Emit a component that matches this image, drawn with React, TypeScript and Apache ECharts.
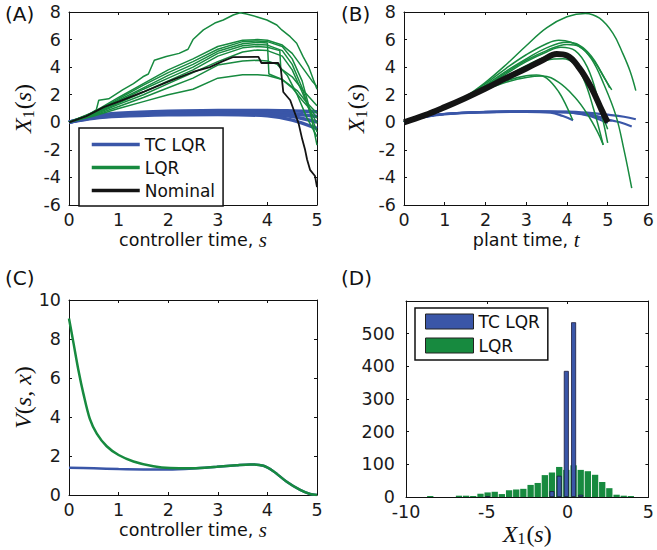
import React, { useEffect, useRef } from "react";
import * as echarts from "echarts";

type P = [number, number];

const BLUE = "#3a56a8";
const GREEN = "#178a3f";
const BLACK = "#141414";
const FONT = "DejaVu Sans";
const SERIF = "Liberation Serif";

// ---------- Panel A : X1 vs controller time s ----------
const aXTicks = [0, 5, 1];
const aYTicks = [-6, 8, 2];
const aTcLqr: P[][] = [
  [[0, 0], [0.5, 0.47], [1, 0.66], [2, 0.8], [3, 0.85], [4, 0.86], [4.5, 0.82], [5, 0.76]],
  [[0, 0], [0.5, 0.4], [1, 0.58], [2, 0.72], [3, 0.77], [4, 0.74], [4.5, 0.62], [5, 0.42]],
  [[0, 0], [0.5, 0.34], [1, 0.5], [2, 0.63], [3, 0.68], [4, 0.62], [4.5, 0.42], [5, 0.02]],
  [[0, 0], [0.5, 0.29], [1, 0.43], [2, 0.54], [3, 0.57], [4, 0.47], [4.5, 0.16], [5, -0.45]],
];
const aLqr: P[][] = [
  [[0, 0], [0.3, 0.35], [0.55, 0.9], [0.6, 1.6], [0.8, 1.7], [1.08, 2.35], [1.3, 2.8], [1.49, 3.3], [1.6, 3.5], [1.72, 4.5], [1.96, 4.77], [2.22, 5.0], [2.4, 5.3], [2.5, 6.0], [2.71, 6.7], [2.94, 7.2], [3.11, 7.42], [3.31, 7.78], [3.45, 7.95], [3.58, 7.85], [3.78, 7.66], [3.99, 7.42], [4.19, 7.06], [4.29, 6.7], [4.46, 6.21], [4.59, 5.73], [4.72, 4.76], [4.83, 4.04], [4.93, 3.07], [5, 2.4]],
  [[0, 0], [0.5, 0.75], [1, 1.8], [1.5, 2.8], [2, 3.8], [2.5, 4.6], [3, 5.5], [3.5, 5.95], [3.8, 6.0], [4.0, 5.95], [4.3, 5.6], [4.5, 5.0], [4.7, 4.0], [4.9, 3.0], [5, 2.6]],
  [[0, 0], [0.5, 0.7], [1, 1.7], [1.5, 2.7], [2, 3.6], [2.5, 4.4], [3, 5.3], [3.5, 5.85], [3.8, 5.9], [4.0, 5.85], [4.3, 5.5], [4.5, 4.6], [4.7, 3.0], [4.85, 1.0], [5, -1.65]],
  [[0, 0], [0.5, 0.7], [1, 1.6], [1.5, 2.5], [2, 3.4], [2.5, 4.2], [3, 5.15], [3.5, 5.7], [3.8, 5.8], [4.0, 5.75], [4.03, 3.5], [4.3, 3.1], [4.6, 2.3], [4.8, 1.4], [5, 0.65]],
  [[0, 0], [0.5, 0.65], [1, 1.5], [1.5, 2.4], [2, 3.2], [2.5, 4.0], [3, 5.0], [3.5, 5.55], [3.8, 5.65], [4.0, 5.6], [4.3, 5.2], [4.5, 4.2], [4.7, 2.5], [4.85, 0.8], [5, -0.7]],
  [[0, 0], [0.5, 0.6], [1, 1.4], [1.5, 2.2], [2, 3.0], [2.5, 3.8], [3, 4.8], [3.5, 5.4], [3.8, 5.5], [4.0, 5.45], [4.25, 5.2], [4.27, 3.9], [4.5, 3.3], [4.7, 2.4], [5, 1.2]],
  [[0, 0], [0.5, 0.55], [1, 1.3], [1.5, 2.0], [2, 2.8], [2.5, 3.6], [3, 4.4], [3.5, 5.1], [3.8, 5.25], [4.0, 5.2], [4.3, 4.8], [4.5, 3.8], [4.7, 2.2], [4.85, 0.9], [5, -0.07]],
  [[0, 0], [0.5, 0.5], [1, 1.15], [1.5, 1.8], [2, 2.5], [2.5, 3.2], [3, 4.15], [3.5, 4.45], [3.8, 4.5], [4.0, 4.45], [4.2, 4.2], [4.4, 3.4], [4.6, 2.0], [4.8, 0.3], [5, -1.04]],
  [[0, 0], [0.5, 0.45], [1, 1.0], [1.5, 1.5], [2, 2.0], [2.5, 2.4], [3, 3.2], [3.5, 3.45], [3.8, 3.45], [4.0, 3.4], [4.3, 3.1], [4.5, 2.5], [4.7, 1.6], [4.9, 0.8], [5, 0.3]],
];
const aNominal: P[] = [[0, 0], [0.35, 0.45], [0.7, 1.1], [1, 1.5], [1.5, 2.2], [2, 2.95], [2.5, 3.65], [2.84, 4.0], [3.08, 4.4], [3.3, 4.72], [3.82, 4.75], [3.88, 4.3], [4.22, 4.3], [4.27, 3.9], [4.32, 2.2], [4.46, 1.6], [4.56, 0.6], [4.63, -0.1], [4.7, -1.2], [4.76, -2.0], [4.8, -2.7], [4.86, -3.45], [4.96, -3.9], [5, -4.7]];

// ---------- Panel B : X1 vs plant time t ----------
const bXTicks = [0, 6, 1];
const bYTicks = [-6, 8, 2];
const bTcLqr: P[][] = [
  [[0, 0], [0.5, 0.4], [1, 0.6], [2, 0.72], [3, 0.75], [3.6, 0.7], [3.9, 0.45], [4.15, 0.15]],
  [[0, 0], [0.5, 0.4], [1, 0.6], [2, 0.74], [3, 0.78], [4, 0.72], [4.5, 0.5], [4.8, 0.2], [5.0, -0.05]],
  [[0, 0], [0.5, 0.38], [1, 0.58], [2, 0.73], [3, 0.77], [4, 0.72], [4.5, 0.55], [5.0, 0.2], [5.3, 0.0], [5.59, -0.3]],
  [[0, 0], [0.5, 0.4], [1, 0.62], [2, 0.76], [3, 0.8], [4, 0.78], [4.5, 0.7], [5.0, 0.55], [5.4, 0.4], [5.69, 0.22]],
  [[0, 0], [0.5, 0.39], [1, 0.6], [2, 0.75], [3, 0.79], [4, 0.75], [4.5, 0.6], [4.8, 0.4], [5.1, 0.1]],
];
const bLqr: P[][] = [
  [[0, 0], [0.5, 0.5], [1, 1.1], [1.5, 1.85], [2, 2.9], [2.55, 4.3], [3.0, 5.55], [3.5, 6.85], [4.0, 7.65], [4.45, 7.9], [4.8, 7.55], [5.13, 6.45], [5.37, 5.0], [5.55, 3.7], [5.69, 2.3]],
  [[0, 0], [0.5, 0.5], [1, 1.1], [1.5, 1.8], [2, 2.8], [2.5, 3.9], [3, 4.9], [3.5, 5.7], [3.8, 5.95], [4.1, 5.8], [4.4, 5.3], [4.7, 4.3], [4.9, 3.3], [5.1, 2.35]],
  [[0, 0], [0.5, 0.5], [1, 1.1], [1.5, 1.75], [2, 2.7], [2.5, 3.7], [3, 4.6], [3.5, 5.4], [4.0, 5.8], [4.3, 5.6], [4.6, 4.8], [4.85, 3.6], [5.05, 2.5]],
  [[0, 0], [0.5, 0.5], [1, 1.1], [1.5, 1.7], [2, 2.6], [2.5, 3.6], [3, 4.5], [3.5, 5.2], [4.0, 5.65], [4.3, 5.5], [4.6, 4.6], [4.9, 2.8], [5.2, 0.5], [5.4, -2.0], [5.59, -4.78]],
  [[0, 0], [0.5, 0.5], [1, 1.1], [1.5, 1.7], [2, 2.6], [2.5, 3.5], [3, 4.4], [3.5, 5.1], [3.85, 5.45], [4.2, 5.2], [4.5, 4.0], [4.75, 1.8], [5.0, -1.5]],
  [[0, 0], [0.5, 0.5], [1, 1.1], [1.5, 1.7], [2, 2.5], [2.5, 3.3], [3, 4.1], [3.5, 4.8], [3.8, 5.0], [4.1, 4.6], [4.4, 3.2], [4.65, 1.0], [4.89, -1.64]],
  [[0, 0], [0.5, 0.5], [1, 1.1], [1.5, 1.7], [2, 2.45], [2.5, 3.2], [3, 3.9], [3.5, 4.5], [3.9, 4.6], [4.2, 4.2], [4.5, 3.0], [4.8, 1.0], [5.0, -0.5]],
  [[0, 0], [0.5, 0.5], [1, 1.1], [1.5, 1.7], [2, 2.4], [2.5, 3.0], [3, 3.38], [3.25, 3.43], [3.5, 3.2], [3.8, 2.2], [4.0, 1.1], [4.14, 0.17]],
  [[0, 0], [0.5, 0.5], [1, 1.1], [1.5, 1.7], [2, 2.35], [2.5, 2.9], [3, 3.25], [3.4, 3.35], [3.8, 2.9], [4.2, 1.8], [4.5, 0.6], [4.75, -0.7], [4.89, -1.64]],
];
const bNominal: P[] = [[0, 0], [0.5, 0.5], [1, 1.1], [1.5, 1.75], [2, 2.45], [2.5, 3.2], [3, 3.9], [3.4, 4.5], [3.75, 4.95], [4.0, 4.85], [4.3, 3.95], [4.6, 2.5], [4.85, 0.9], [5.0, 0.0]];

// ---------- Panel C : V(s,x) vs controller time ----------
const cXTicks = [0, 5, 1];
const cYTicks = [0, 10, 2];
const cTcLqr: P[] = [[0, 1.4], [0.5, 1.37], [1, 1.33], [1.5, 1.31], [2, 1.31], [2.5, 1.36], [2.98, 1.45], [3.38, 1.53], [3.65, 1.57], [3.92, 1.5], [4.12, 1.22], [4.39, 0.68], [4.66, 0.26], [4.86, 0.05], [5, 0]];
const cLqr: P[] = [[0, 9.05], [0.09, 7.8], [0.19, 6.4], [0.29, 5.2], [0.42, 3.9], [0.56, 3.15], [0.76, 2.5], [1.0, 2.05], [1.3, 1.72], [1.7, 1.47], [2.04, 1.38], [2.5, 1.37], [2.98, 1.45], [3.38, 1.53], [3.65, 1.57], [3.92, 1.5], [4.12, 1.22], [4.39, 0.68], [4.66, 0.26], [4.86, 0.05], [5, 0]];

// ---------- Panel D : histogram of X1(s) ----------
const dXTicks = [-10, 5, 5];
const dYTicks = [0, 600, 100];
const dLqrBins = [-8.5, -6.72, -6.28, -5.84, -5.39, -4.95, -4.51, -4.07, -3.62, -3.18, -2.74, -2.29, -1.85, -1.41, -0.97, -0.52, -0.08, 0.37, 0.81, 1.25, 1.7, 2.14, 2.58, 3.03, 3.47, 3.91];
const dLqrCounts = [3, 4, 4, 3, 10, 14, 16, 9, 21, 23, 25, 37, 43, 67, 75, 92, 83, 97, 83, 79, 68, 46, 27, 7, 4, 3];
const dTcBins = [-4.95, -0.97, -0.52, -0.08, 0.37, 0.81];
const dTcCounts = [2, 18, 65, 386, 535, 7];

const rich = {
  t: { fontFamily: FONT, fontSize: 17.5, color: "#111" },
  mi: { fontFamily: SERIF, fontStyle: "italic", fontSize: 24, color: "#111" },
  mr: { fontFamily: SERIF, fontSize: 24, color: "#111" },
  ms: { fontFamily: SERIF, fontStyle: "italic", fontSize: 21, color: "#111" },
  sub: { fontFamily: SERIF, fontSize: 16, color: "#111", padding: [10, 1, 0, 0] },
};

function axes(kind: "x" | "y", grid: number, ticks: number[], extra: any = {}, labelExtra: any = {}) {
  const [min, max, interval] = ticks;
  const base: any = {
    type: "value",
    gridIndex: grid,
    min,
    max,
    interval,
    splitLine: { show: false },
    axisLine: { show: true, onZero: false, lineStyle: { color: "#111", width: 1 } },
    axisTick: { show: true, inside: true, length: 3, lineStyle: { color: "#111", width: 1 } },
  };
  return [
    {
      ...base,
      position: kind === "x" ? "bottom" : "left",
      axisLabel: { show: true, fontFamily: FONT, fontSize: 17.5, color: "#1a1a1a", margin: kind === "x" ? 6 : 8, ...labelExtra },
      nameTextStyle: { rich },
      ...extra,
    },
    { ...base, position: kind === "x" ? "top" : "right", axisLabel: { show: false } },
  ];
}

function lineSeries(name: string, data: P[], axisIdx: number, color: string, width: number, smooth: number, z: number) {
  return {
    type: "line",
    name,
    data,
    xAxisIndex: axisIdx,
    yAxisIndex: axisIdx,
    symbol: "none",
    showSymbol: false,
    smooth: smooth > 0 ? smooth : false,
    lineStyle: { color, width },
    itemStyle: { color },
    silent: true,
    z,
  };
}

export default function App() {
  const ref = useRef<HTMLDivElement>(null);
  useEffect(() => {
    if (!ref.current) return;
    const chart = echarts.init(ref.current, undefined, { renderer: "svg" });

    const x1 = "{mi|X}{sub|1}{mr|(}{mi|s}{mr|)}";
    const xAxis = [
      ...axes("x", 0, aXTicks, { name: "{t|controller time, }{ms|s}", nameLocation: "middle", nameGap: 22 }),
      ...axes("x", 1, bXTicks, { name: "{t|plant time, }{ms|t}", nameLocation: "middle", nameGap: 22 }),
      ...axes("x", 2, cXTicks, { name: "{t|controller time, }{ms|s}", nameLocation: "middle", nameGap: 22 }),
      ...axes("x", 3, dXTicks, { name: x1, nameLocation: "middle", nameGap: 13 }),
      { type: "value", gridIndex: 3, min: dXTicks[0], max: dXTicks[1], show: false },
    ];
    const yAxis = [
      ...axes("y", 0, aYTicks, { name: x1, nameLocation: "middle", nameGap: 33 }),
      ...axes("y", 1, bYTicks, { name: x1, nameLocation: "middle", nameGap: 35 }),
      ...axes("y", 2, cYTicks, { name: "{mi|V}{mr|(}{mi|s}{mr|, }{mi|x}{mr|)}", nameLocation: "middle", nameGap: 31 }),
      ...axes("y", 3, dYTicks, {}, { margin: 11, formatter: (v: number) => (v === 600 ? "" : String(v)) }),
    ];

    const series: any[] = [];
    aTcLqr.forEach((d) => series.push(lineSeries("TC LQR", d, 0, BLUE, 3.5, 0.3, 2)));
    aLqr.forEach((d) => series.push(lineSeries("LQR", d, 0, GREEN, 1.5, 0, 3)));
    series.push(lineSeries("Nominal", aNominal, 0, BLACK, 1.8, 0, 4));

    bTcLqr.forEach((d) => series.push(lineSeries("TC LQR", d, 2, BLUE, 2.2, 0.4, 2)));
    bLqr.forEach((d) => series.push(lineSeries("LQR", d, 2, GREEN, 1.5, 0.4, 3)));
    series.push(lineSeries("Nominal", bNominal, 2, BLACK, 6, 0.4, 4));

    series.push(lineSeries("TC LQR", cTcLqr, 4, BLUE, 2.5, 0.3, 2));
    series.push(lineSeries("LQR", cLqr, 4, GREEN, 2.5, 0.3, 3));

    series.push({
      type: "bar",
      name: "LQR",
      data: dLqrBins.map((x, i) => [x, dLqrCounts[i]]),
      xAxisIndex: 6,
      yAxisIndex: 6,
      barWidth: 6.3,
      itemStyle: { color: GREEN },
      silent: true,
      z: 2,
    });
    series.push({
      type: "bar",
      name: "TC LQR",
      data: dTcBins.map((x, i) => [x, dTcCounts[i]]),
      xAxisIndex: 8,
      yAxisIndex: 6,
      barWidth: 5,
      itemStyle: { color: BLUE, borderColor: "#1c1c3c", borderWidth: 0.8 },
      silent: true,
      z: 3,
    });

    const legendText = { fontFamily: FONT, fontSize: 17, color: "#111" };
    const panelFont = `20px '${FONT}'`;
    chart.setOption({
      animation: false,
      backgroundColor: "#fff",
      grid: [
        { left: 69, top: 12, width: 248, height: 193 },
        { left: 404, top: 12, width: 249, height: 193 },
        { left: 69, top: 300, width: 248, height: 195 },
        { left: 406, top: 301, width: 247, height: 196 },
      ],
      xAxis,
      yAxis,
      legend: [
        {
          orient: "vertical",
          left: 79,
          top: 128,
          padding: [8, 8, 7, 11],
          itemWidth: 48,
          itemHeight: 14,
          itemGap: 6,
          borderColor: "#111",
          borderWidth: 1.5,
          backgroundColor: "#fff",
          selectedMode: false,
          textStyle: legendText,
          lineStyle: { width: 3.5, opacity: 1 },
          itemStyle: { opacity: 0 },
          data: ["TC LQR", "LQR", "Nominal"],
          z: 10,
        },
        {
          orient: "vertical",
          left: 415,
          top: 308,
          padding: [5, 8, 6, 10],
          itemWidth: 48,
          itemHeight: 15,
          itemGap: 7,
          borderColor: "#111",
          borderWidth: 1.5,
          backgroundColor: "#fff",
          selectedMode: false,
          textStyle: legendText,
          itemStyle: { borderColor: "#222", borderWidth: 1 },
          data: [
            { name: "TC LQR", icon: "rect" },
            { name: "LQR", icon: "rect" },
          ],
          z: 10,
        },
      ],
      graphic: [
        { type: "text", left: 5, top: 4, style: { text: "(A)", font: panelFont, fill: "#111" } },
        { type: "text", left: 341, top: 4, style: { text: "(B)", font: panelFont, fill: "#111" } },
        { type: "text", left: 5, top: 268, style: { text: "(C)", font: panelFont, fill: "#111" } },
        { type: "text", left: 341, top: 268, style: { text: "(D)", font: panelFont, fill: "#111" } },
      ],
      series,
    });
    return () => chart.dispose();
  }, []);
  return <div ref={ref} style={{ position: "fixed", left: 0, top: 0, width: 657, height: 550, background: "#fff" }} />;
}
